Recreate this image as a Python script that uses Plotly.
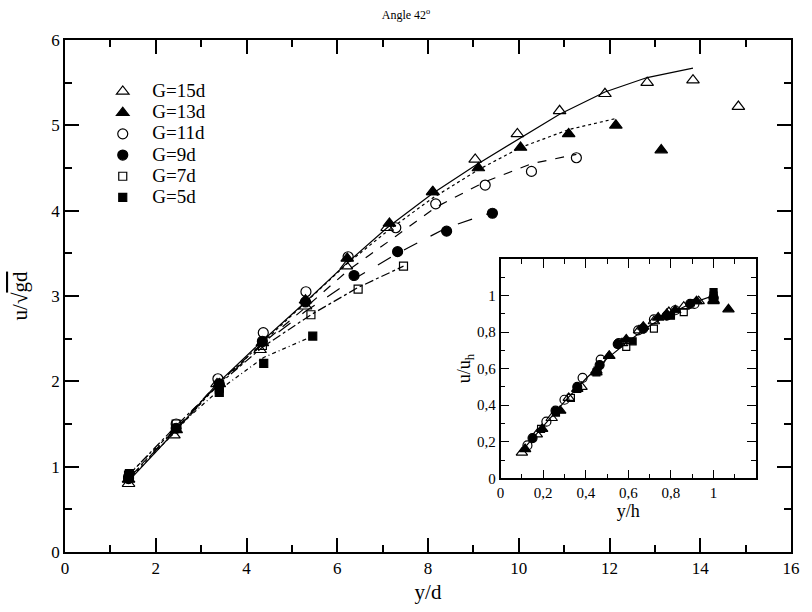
import plotly.graph_objects as go

FONT = "Liberation Serif"

# ---- main plot data (y/d, u/sqrt(gd)) ----
names = ["G=15d", "G=13d", "G=11d", "G=9d", "G=7d", "G=5d"]
symbols = ["triangle-up-open", "triangle-up", "circle-open", "circle", "square-open", "square"]
dashes = ["solid", "dot", "dash", "longdash", "dashdot", "4px,3px,1px,3px"]

x15 = [1.4, 2.4, 3.35, 4.3, 5.3, 6.2, 7.1, 8.1, 9.04, 9.97, 10.9, 11.9, 12.83, 13.84, 14.84]
y15 = [0.8, 1.37, 1.97, 2.37, 2.88, 3.35, 3.8, 4.22, 4.6, 4.9, 5.17, 5.37, 5.5, 5.53, 5.22]
x13 = [1.4, 2.45, 3.4, 4.35, 5.3, 6.22, 7.15, 8.11, 9.11, 10.04, 11.1, 12.14, 13.14]
y13 = [0.85, 1.43, 1.97, 2.45, 2.95, 3.44, 3.85, 4.22, 4.5, 4.74, 4.9, 5.0, 4.71]
x11 = [1.4, 2.45, 3.37, 4.37, 5.31, 6.24, 7.29, 8.17, 9.26, 10.28, 11.27]
y11 = [0.88, 1.5, 2.03, 2.57, 3.05, 3.46, 3.8, 4.08, 4.3, 4.46, 4.62]
x9 = [1.4, 2.45, 3.4, 4.35, 5.3, 6.37, 7.33, 8.41, 9.42]
y9 = [0.86, 1.45, 1.97, 2.47, 2.93, 3.24, 3.52, 3.76, 3.97]
x7 = [1.4, 2.45, 3.4, 4.35, 5.42, 6.46, 7.46]
y7 = [0.9, 1.5, 1.92, 2.42, 2.78, 3.08, 3.35]
x5 = [1.42, 2.45, 3.4, 4.38, 5.46]
y5 = [0.92, 1.45, 1.87, 2.21, 2.53]

# fitted curves
fx15 = [1.4, 2.4, 3.35, 4.3, 5.3, 6.2, 7.1, 8.1, 9.04, 9.97, 10.9, 11.9, 12.83, 13.84]
fy15 = [0.83, 1.4, 1.97, 2.45, 2.93, 3.38, 3.8, 4.2, 4.53, 4.83, 5.13, 5.39, 5.56, 5.67]
fx13 = [1.4, 2.45, 3.4, 4.35, 5.3, 6.22, 7.15, 8.11, 9.11, 10.04, 11.1, 12.14]
fy13 = [0.85, 1.42, 1.98, 2.45, 2.92, 3.38, 3.78, 4.15, 4.48, 4.74, 4.95, 5.08]
fx11 = [1.4, 2.45, 3.37, 4.37, 5.31, 6.24, 7.29, 8.17, 9.26, 10.28, 11.27]
fy11 = [0.87, 1.45, 1.98, 2.45, 2.87, 3.3, 3.7, 4.04, 4.34, 4.55, 4.66]
fx9 = [1.4, 2.45, 3.4, 4.35, 5.3, 6.37, 7.33, 8.41, 9.42]
fy9 = [0.86, 1.44, 1.97, 2.43, 2.82, 3.2, 3.5, 3.8, 3.98]
fx7 = [1.4, 2.45, 3.4, 4.35, 5.42, 6.46, 7.46]
fy7 = [0.9, 1.48, 1.97, 2.4, 2.78, 3.1, 3.35]
fx5 = [1.42, 2.45, 3.4, 4.38, 5.46]
fy5 = [0.92, 1.45, 1.9, 2.28, 2.53]

# ---- inset data (y/h, u/u_h) ----
ix15 = [0.10, 0.17, 0.24, 0.32, 0.38, 0.45, 0.51, 0.57, 0.65, 0.72, 0.79, 0.86, 0.93, 1.0]
iy15 = [0.14, 0.24, 0.33, 0.44, 0.50, 0.59, 0.67, 0.74, 0.81, 0.86, 0.91, 0.94, 0.97, 0.975]
ix13 = [0.115, 0.195, 0.28, 0.36, 0.45, 0.51, 0.59, 0.67, 0.74, 0.78, 0.82, 0.92, 1.0, 1.07]
iy13 = [0.16, 0.27, 0.37, 0.49, 0.58, 0.67, 0.76, 0.83, 0.88, 0.90, 0.92, 0.97, 0.97, 0.925]
ix11 = [0.126, 0.215, 0.30, 0.385, 0.47, 0.555, 0.646, 0.72, 0.82, 0.91, 1.0]
iy11 = [0.18, 0.31, 0.43, 0.55, 0.65, 0.74, 0.81, 0.87, 0.92, 0.955, 0.985]
ix9 = [0.15, 0.258, 0.36, 0.465, 0.55, 0.67, 0.78, 0.89, 1.0]
iy9 = [0.22, 0.37, 0.50, 0.62, 0.735, 0.82, 0.89, 0.955, 0.99]
ix7 = [0.19, 0.33, 0.455, 0.59, 0.72, 0.86, 1.0]
iy7 = [0.27, 0.44, 0.59, 0.72, 0.82, 0.91, 1.0]
ix5 = [0.26, 0.36, 0.45, 0.62, 0.80, 1.0]
iy5 = [0.36, 0.49, 0.58, 0.75, 0.89, 1.02]

icx = [0.1, 0.2, 0.3, 0.4, 0.5, 0.6, 0.7, 0.8, 0.9, 1.0]
icy = [0.15, 0.285, 0.42, 0.545, 0.655, 0.75, 0.835, 0.905, 0.96, 1.0]

inset_ticks = [0, 0.2, 0.4, 0.6, 0.8, 1.0]
inset_ticktext = ["0", "0,2", "0,4", "0,6", "0,8", "1"]

pts = [(x15, y15), (x13, y13), (x11, y11), (x9, y9), (x7, y7), (x5, y5)]
fits = [(fx15, fy15), (fx13, fy13), (fx11, fy11), (fx9, fy9), (fx7, fy7), (fx5, fy5)]
ins = [(ix15, iy15), (ix13, iy13), (ix11, iy11), (ix9, iy9), (ix7, iy7), (ix5, iy5)]
msize = [11, 11, 10, 10, 8, 8]

fig = go.Figure()
for (fx, fy), d in zip(fits, dashes):
    fig.add_trace(go.Scatter(x=fx, y=fy, mode="lines", showlegend=False,
                             line=dict(color="black", width=1.2, dash=d),
                             xaxis="x", yaxis="y"))
for (px, py), n, s, ms in zip(pts, names, symbols, msize):
    fig.add_trace(go.Scatter(x=px, y=py, mode="markers",
                             name='<span style="font-size:19px">\u00a0\u00a0' + n + '</span>',
                             marker=dict(symbol=s, size=ms, color="black",
                                         line=dict(color="black", width=1.2)),
                             xaxis="x", yaxis="y"))
fig.add_trace(go.Scatter(x=icx, y=icy, mode="lines", showlegend=False,
                         line=dict(color="black", width=1.2),
                         xaxis="x2", yaxis="y2"))
for (px, py), s, ms in zip(ins, symbols, msize):
    fig.add_trace(go.Scatter(x=px, y=py, mode="markers", showlegend=False,
                             marker=dict(symbol=s, size=ms - 1, color="black",
                                         line=dict(color="black", width=1.2)),
                             xaxis="x2", yaxis="y2"))

axcommon = dict(showgrid=False, zeroline=False, showline=True, linecolor="black",
                linewidth=1.5, mirror="ticks", ticks="inside", tickcolor="black",
                tickwidth=1.5, tickfont=dict(family=FONT, size=17, color="black"))

fig.update_layout(
    width=812, height=612,
    paper_bgcolor="white", plot_bgcolor="white",
    margin=dict(l=65, r=14, t=40, b=58),
    font=dict(family=FONT, color="black"),
    title=dict(text="Angle 42<sup>o</sup>", x=0.5, xanchor="center",
               y=1 - 15 / 612, yanchor="middle", yref="container",
               font=dict(family=FONT, size=12, color="black")),
    xaxis=dict(**axcommon, range=[0, 16], dtick=2, ticklen=14,
               minor=dict(dtick=1, ticklen=7, ticks="inside", tickcolor="black", tickwidth=1.5),
               title=dict(text="y/d", font=dict(family=FONT, size=21), standoff=7)),
    yaxis=dict(**axcommon, range=[0, 6], dtick=1, ticklen=14,
               minor=dict(dtick=0.5, ticklen=7, ticks="inside", tickcolor="black", tickwidth=1.5),
               title=dict(text='u/√<span style="text-decoration:overline">gd</span>',
                          font=dict(family=FONT, size=21), standoff=18)),
    xaxis2=dict(showgrid=False, zeroline=False, showline=True, linecolor="black",
                linewidth=1.5, mirror="ticks", ticks="inside", tickcolor="black",
                tickwidth=1.2, ticklen=9, anchor="y2", domain=[0.600, 0.952],
                range=[0, 1.2], tickvals=inset_ticks, ticktext=inset_ticktext,
                minor=dict(dtick=0.1, ticklen=5, ticks="inside", tickcolor="black", tickwidth=1.2),
                tickfont=dict(family=FONT, size=15, color="black"),
                title=dict(text="y/h", font=dict(family=FONT, size=18), standoff=0)),
    yaxis2=dict(showgrid=False, zeroline=False, showline=True, linecolor="black",
                linewidth=1.5, mirror="ticks", ticks="inside", tickcolor="black",
                tickwidth=1.2, ticklen=9, anchor="x2", domain=[0.144, 0.572],
                range=[0, 1.2], tickvals=inset_ticks, ticktext=inset_ticktext,
                minor=dict(dtick=0.1, ticklen=5, ticks="inside", tickcolor="black", tickwidth=1.2),
                tickfont=dict(family=FONT, size=15, color="black"),
                title=dict(text="u/u<sub>h</sub>", font=dict(family=FONT, size=18), standoff=0)),
    legend=dict(x=0.052, y=0.93, xanchor="left", yanchor="top",
                bgcolor="rgba(0,0,0,0)", borderwidth=0,
                font=dict(family=FONT, size=14, color="black"), tracegroupgap=0),
    shapes=[dict(type="rect", xref="x2 domain", yref="y2 domain", x0=0, x1=1, y0=0, y1=1,
                 fillcolor="white", line=dict(width=0), layer="below")],
)

fig.write_html("out.html")
